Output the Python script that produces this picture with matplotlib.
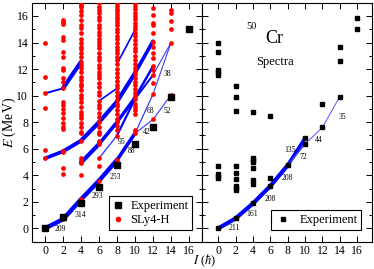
import matplotlib
matplotlib.use("Agg")
import matplotlib.pyplot as plt
from matplotlib.ticker import MultipleLocator

plt.rcParams['font.family'] = ['Liberation Serif', 'DejaVu Serif']
plt.rcParams['mathtext.fontset'] = 'stix'

# ---- left panel: SLy4-H theory levels (red dots), per spin ----
th_I0 = [0.0, 5.27, 5.9, 9.04, 10.17, 11.42, 13.94]
th_I2 = [0.68, 4.07, 4.52, 5.72, 5.85, 7.45, 7.65, 7.95, 8.3, 8.7, 9.0, 9.3,
         9.55, 10.55, 11.0, 11.35, 11.9, 12.05, 12.9, 13.3, 14.2, 14.4,
         15.4, 15.55, 15.7]
th_I4 = [2.18, 4.02, 4.9, 5.1, 5.27, 6.6, 7.16, 7.29, 7.66, 7.9, 8.3, 8.55,
         8.8, 9.17, 9.55, 9.8, 10.05, 10.4, 10.7, 10.9, 11.2, 11.4, 11.8,
         12.06, 12.3, 12.55, 12.9, 13.2, 13.5, 13.7, 14.0, 14.3, 14.7, 15.1,
         15.3, 15.7, 16.1, 16.4, 16.7, 16.8, 17.0]
th_I6 = [3.59, 4.72, 5.27, 6.35, 6.5, 6.6, 7.1, 7.29, 7.66, 8.04, 8.42, 8.67,
         9.04, 9.3, 9.6, 10.05, 10.3, 10.68, 10.93, 11.3, 11.56, 11.8, 12.06,
         12.31, 12.69, 12.94, 13.2, 13.57, 13.82, 14.07, 14.3, 14.57, 14.82,
         15.08, 15.33, 15.7, 15.95, 16.2, 16.46, 16.7, 16.96]
th_I8 = [5.15, 6.95, 7.4, 7.7, 8.0, 8.25, 8.6, 8.9, 9.2, 9.4, 9.7, 10.0,
         10.3, 10.55, 10.8, 11.1, 11.4, 11.7, 12.0, 12.4, 12.65, 12.9, 13.2,
         13.45, 13.7, 14.0, 14.25, 14.5, 14.8, 15.05, 15.3, 15.55, 15.75,
         15.95, 16.15, 16.35, 16.55, 16.75, 16.95]
th_I10 = [7.16, 7.4, 8.65, 8.9, 9.15, 9.4, 9.75, 9.95, 10.2, 10.5, 10.8,
          11.05, 11.35, 11.6, 11.85, 12.1, 12.4, 12.7, 13.0, 13.35, 13.6,
          13.9, 14.2, 14.5, 14.75, 15.0, 15.25, 15.5, 15.75, 16.0, 16.25,
          16.5, 16.75, 16.95]
th_I12 = [8.2, 10.1, 10.95, 11.55, 11.9, 12.2, 12.8, 13.2, 13.7, 14.05, 14.7,
          15.3, 15.45, 16.05, 16.6]
th_I14 = [10.05, 14.0, 15.0, 15.65, 16.25, 16.45]
theory_spins = [0, 2, 4, 6, 8, 10, 12, 14]
theory_levels = [th_I0, th_I2, th_I4, th_I6, th_I8, th_I10, th_I12, th_I14]

# experiment, left panel (yrast only)
expL_I = [0, 2, 4, 6, 8, 10, 12, 14, 16]
expL_E = [0.0, 0.83, 1.93, 3.15, 4.77, 6.34, 7.61, 9.92, 15.02]

# theory E2 bands (spin, energy, line width per segment)
gsb_I = [0, 2, 4, 6, 8, 10]
gsb_E = [0.0, 0.68, 2.18, 3.59, 5.15, 7.16]
gsb_w = [3.2, 3.2, 3.2, 3.2, 2.6]
bA_I = [0, 2, 4, 6, 8, 10, 12]
bA_E = [5.27, 5.8, 6.6, 8.0, 9.55, 11.7, 14.1]
bA_w = [2.6, 2.8, 3.0, 3.0, 3.0, 2.6]
bB_I = [4, 6, 8, 10, 12]
bB_E = [4.95, 6.35, 8.0, 9.85, 12.2]
bB_w = [3.0, 2.6, 2.4, 1.8]
bC_I = [6, 8, 10, 12, 14]
bC_E = [5.27, 7.0, 9.75, 11.55, 14.0]
bC_w = [1.0, 1.6, 1.4, 0.8]
bD_I = [0, 2, 4]
bD_E = [10.17, 10.55, 12.55]
bD_w = [1.4, 3.0]
bE_I = [6, 8]
bE_E = [9.6, 10.55]
bE_w = [1.2]
bF_I = [8, 10]
bF_E = [12.4, 14.95]
bF_w = [1.2]
bG_I = [10, 12, 14]
bG_E = [7.16, 8.2, 10.05]
bG_w = [0.8, 0.8]
bH_I = [10, 12, 14]
bH_E = [7.16, 10.1, 14.0]
bH_w = [0.9, 0.8]
left_bands = [(gsb_I, gsb_E, gsb_w), (bA_I, bA_E, bA_w), (bB_I, bB_E, bB_w),
              (bC_I, bC_E, bC_w), (bD_I, bD_E, bD_w), (bE_I, bE_E, bE_w),
              (bF_I, bF_E, bF_w), (bG_I, bG_E, bG_w), (bH_I, bH_E, bH_w)]

# B(E2) labels, theory
be2L_txt = ['209', '314', '293', '253', '95', '88', '42', '68', '52', '38']
be2L_I = [1.67, 3.89, 5.86, 7.86, 8.52, 9.63, 11.3, 11.67, 13.6, 13.6]
be2L_E = [-0.05, 1.0, 2.46, 3.89, 6.53, 5.83, 7.28, 8.84, 8.84, 11.63]

# ---- right panel: experimental spectra ----
expR_I = [0, 0, 0, 0, 0, 0, 0, 0, 0, 0,
          2, 2, 2, 2, 2, 2, 2, 2, 2, 2,
          4, 4, 4, 4, 4, 4, 4, 4,
          6, 6, 6, 8, 10, 10,
          12, 12, 14, 14, 14, 16, 16]
expR_E = [0.0, 3.81, 3.95, 4.07, 4.72, 11.55, 11.75, 11.9, 13.26, 13.94,
          0.75, 2.89, 3.05, 3.21, 3.71, 4.19, 4.72, 8.84, 9.92, 10.75,
          1.88, 3.31, 3.64, 4.52, 4.97, 5.12, 5.27, 8.74,
          3.19, 3.82, 8.44, 4.75, 6.35, 6.78,
          7.6, 9.34, 9.92, 12.58, 13.69, 15.04, 15.82]

yr_I = [0, 2, 4, 6, 8, 10]
yr_E = [0.0, 0.75, 1.88, 3.19, 4.75, 6.78]
yr_w = [3.0, 3.0, 3.0, 3.0, 2.6]
sb_I = [8, 10, 12, 14]
sb_E = [4.75, 6.35, 7.6, 9.92]
sb_w = [1.0, 0.6, 0.6]
right_bands = [(yr_I, yr_E, yr_w), (sb_I, sb_E, sb_w)]

be2R_txt = ['211', '161', '208', '208', '135', '72', '44', '35']
be2R_I = [1.81, 3.85, 5.96, 8.0, 8.27, 9.8, 11.53, 14.35]
be2R_E = [0.05, 1.06, 2.21, 3.77, 5.9, 5.4, 6.65, 8.41]


def draw_bands(ax, bands):
    for xs, ys, ws in bands:
        for k in range(len(ws)):
            c = '#0000ff' if ws[k] > 1.1 else '#3a3aff'
            ax.plot(xs[k:k + 2], ys[k:k + 2], color=c, lw=ws[k],
                    solid_capstyle='round', zorder=2)


def style_axes(ax, xlim):
    ax.set_xlim(*xlim)
    ax.set_ylim(-1, 17)
    ax.xaxis.set_major_locator(MultipleLocator(2))
    ax.yaxis.set_major_locator(MultipleLocator(2))
    ax.yaxis.set_minor_locator(MultipleLocator(1))
    ax.tick_params(which='both', direction='in', top=True, right=True,
                   labelsize=8.5, pad=2.5)
    ax.tick_params(which='major', length=4.5, width=0.7)
    ax.tick_params(which='minor', length=2.5, width=0.7)
    for s in ax.spines.values():
        s.set_linewidth(0.8)


fig = plt.figure(figsize=(3.74, 2.69), dpi=100)
axL = fig.add_axes([0.0848, 0.1019, 0.4545, 0.888])
axR = fig.add_axes([0.5393, 0.1019, 0.4545, 0.888])

# left panel
draw_bands(axL, left_bands)
for I, levels in zip(theory_spins, theory_levels):
    axL.plot([I] * len(levels), levels, 'o', color='#ff0000', ms=3.4,
             mec='none', zorder=3)
axL.plot(expL_I, expL_E, 's', color='black', ms=4.2, zorder=4)
for t, x, y in zip(be2L_txt, be2L_I, be2L_E):
    axL.text(x, y, t, fontsize=5.5, ha='center', va='center', zorder=5)
hE, = axL.plot([], [], 's', color='black', ms=4.2, label='Experiment')
hT, = axL.plot([], [], 'o', color='#ff0000', ms=4.0, mec='none', label='SLy4-H')
legL = axL.legend(handles=[hE, hT], loc='lower right',
                  bbox_to_anchor=(0.945, 0.05), fontsize=9, frameon=True,
                  fancybox=False, edgecolor='black', framealpha=1,
                  handlelength=0.8, handletextpad=0.6, borderpad=0.3,
                  labelspacing=0.15, borderaxespad=0)
legL.get_frame().set_linewidth(0.8)
style_axes(axL, (-1.48, 17.41))

# right panel
draw_bands(axR, right_bands)
axR.plot(expR_I, expR_E, 's', color='black', ms=3.2, zorder=4)
for t, x, y in zip(be2R_txt, be2R_I, be2R_E):
    axR.text(x, y, t, fontsize=5.5, ha='center', va='center', zorder=5)
hR, = axR.plot([], [], 's', color='black', ms=3.2, label='Experiment')
legR = axR.legend(handles=[hR], loc='lower right',
                  bbox_to_anchor=(0.94, 0.05), fontsize=9, frameon=True,
                  fancybox=False, edgecolor='black', framealpha=1,
                  handlelength=1.4, handletextpad=0.6, borderpad=0.3,
                  borderaxespad=0)
legR.get_frame().set_linewidth(0.8)
axR.text(3.85, 15.19, '50', fontsize=7.5, ha='center', va='center')
axR.text(6.42, 14.27, 'Cr', fontsize=13, ha='center', va='center')
axR.text(6.48, 12.53, 'Spectra', fontsize=9, ha='center', va='center')
style_axes(axR, (-1.92, 17.69))
axR.tick_params(labelleft=False)

fig.text(205 / 374, 1 - 253 / 269, r'$I$ ($\hbar$)', fontsize=9,
         ha='center', va='top')
fig.text(9.5 / 374, 1 - 122 / 269, r'$E$ (MeV)', fontsize=10,
         ha='center', va='center', rotation=90)

fig.savefig('out.png', dpi=100)
